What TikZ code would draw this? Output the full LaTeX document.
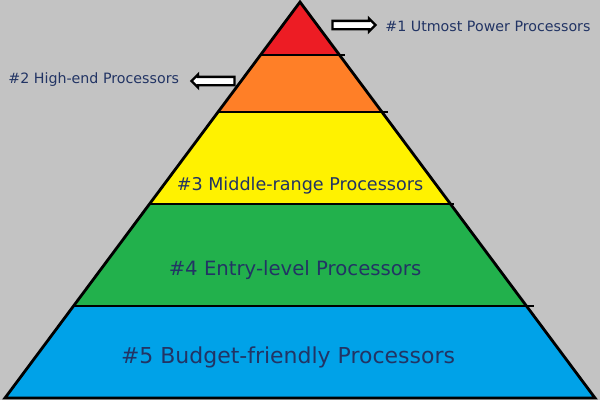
\documentclass[tikz,border=0pt]{standalone}
\usepackage{fontspec}
\setmainfont{DejaVu Sans}
\usetikzlibrary{shapes.arrows}
\definecolor{bgcol}{RGB}{195,195,195}
\definecolor{toplyr}{RGB}{237,28,36}
\definecolor{highlyr}{RGB}{255,127,39}
\definecolor{midlyr}{RGB}{255,242,0}
\definecolor{entrylyr}{RGB}{34,177,76}
\definecolor{budglyr}{RGB}{0,162,232}
\definecolor{txtcol}{RGB}{34,52,100}

\begin{document}
\begin{tikzpicture}[x=0.2mm, y=-0.2mm,
  lvl/.style={font=\fontsize{#1}{#1}\selectfont, text=txtcol, inner sep=0pt},
  blk/.style={single arrow, draw=black, fill=white, line width=1.3pt,
              minimum height=8.6mm, single arrow head extend=0.5mm,
              inner sep=0.6mm, shape border rotate=#1},
  edge/.style={line width=1.6pt, black}
]
\def\sl{0.745}
\fill[bgcol] (0,0) rectangle (600,400);

% layers, top to bottom
\foreach \ya/\yb/\c in {2/55/toplyr,55/112/highlyr,112/204/midlyr,204/306/entrylyr,306/398/budglyr}
  \fill[\c] ({300-\sl*(\ya-2)},\ya) -- ({300+\sl*(\ya-2)},\ya)
         -- ({300+\sl*(\yb-2)},\yb) -- ({300-\sl*(\yb-2)},\yb) -- cycle;

\foreach \y/\e in {55/6,112/6,204/4,306/8}
  \draw[edge] ({300-\sl*(\y-2)},\y) -- ({300+\sl*(\y-2)+\e},\y);
\draw[edge, line join=miter] (300,2) -- ({300-\sl*396},398) -- ({300+\sl*396},398) -- cycle;

\node[lvl=10]   (mid)   at (300,186) {\#3 Middle-range Processors};
\node[lvl=11.2] (entry) at (295,270) {\#4 Entry-level Processors};
\node[lvl=12.5] (budg)  at (288,357) {\#5 Budget-friendly Processors};

\node[blk=0]   (a1) at (352,25) {};
\node[blk=180] (a2) at (215,81) {};
\node[lvl=8.1, anchor=west] (top)  at (385,26) {\#1 Utmost Power Processors};
\node[lvl=8.1, anchor=west] (high) at (8,80)   {\#2 High-end Processors};

\end{tikzpicture}
\end{document}
